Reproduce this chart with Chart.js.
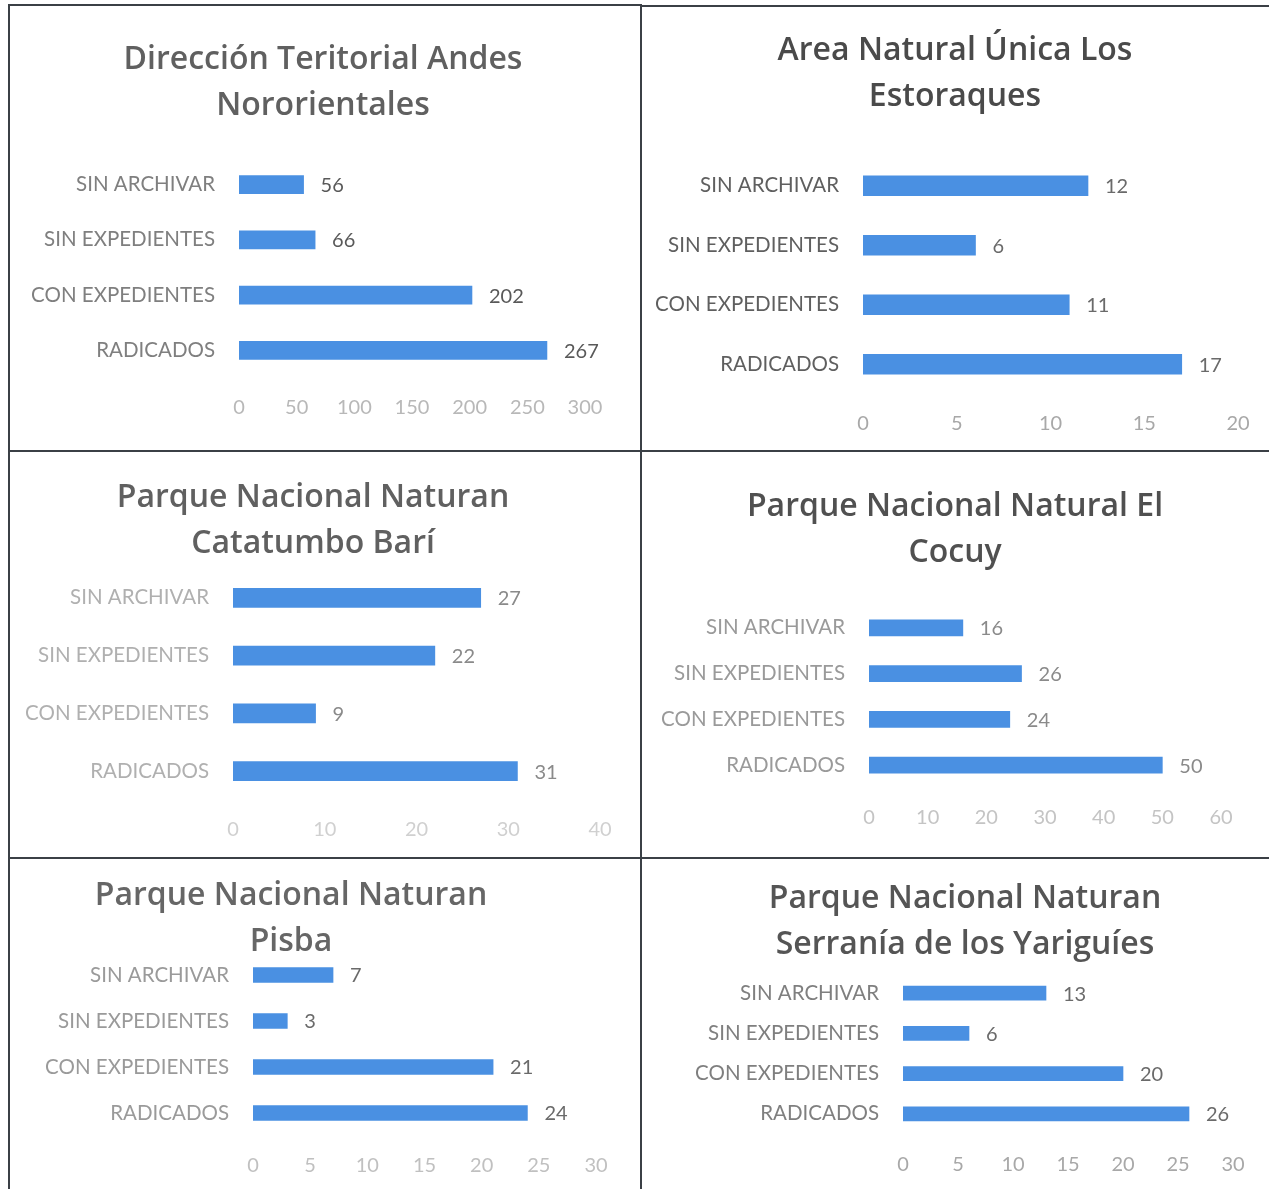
<!DOCTYPE html>
<html>
<head>
<meta charset="utf-8">
<script src="https://cdn.jsdelivr.net/npm/chart.js@4.4.1/dist/chart.umd.min.js"></script>
<style>
  body { margin: 0; background: #fff; width: 1269px; height: 1189px; overflow: hidden; position: relative; }
  .panel { position: absolute; }
  .line { position: absolute; background: #3b4046; z-index: 2; }
</style>
</head>
<body>
<div class="line" style="left:8px;top:4px;width:2px;height:1185px;"></div>
<div class="line" style="left:8px;top:4px;width:634px;height:2px;"></div>
<div class="line" style="left:640px;top:5px;width:629px;height:2px;"></div>
<div class="line" style="left:640px;top:4px;width:2px;height:1185px;"></div>
<div class="line" style="left:8px;top:450px;width:1261px;height:2px;"></div>
<div class="line" style="left:8px;top:857px;width:1261px;height:2px;"></div>

<script>
// datos
var categorias = ["SIN ARCHIVAR", "SIN EXPEDIENTES", "CON EXPEDIENTES", "RADICADOS"];

var titulos = [
    ["Dirección Teritorial Andes", "Nororientales"],
    ["Area Natural Única Los", "Estoraques"],
    ["Parque Nacional Naturan", "Catatumbo Barí"],
    ["Parque Nacional Natural El", "Cocuy"],
    ["Parque Nacional Naturan", "Pisba"],
    ["Parque Nacional Naturan", "Serranía de los Yariguíes"]
];

var valoresAndes = [56, 66, 202, 267];
var valoresEstoraques = [12, 6, 11, 17];
var valoresCatatumbo = [27, 22, 9, 31];
var valoresCocuy = [16, 26, 24, 50];
var valoresPisba = [7, 3, 21, 24];
var valoresYariguies = [13, 6, 20, 26];

var maximos = [300, 20, 40, 60, 30, 30];
var pasos = [50, 5, 10, 10, 5, 5];

// posiciones de cada panel en la pagina
var paneles = [
    { x: 10, y: 6, w: 630, h: 444, centro: 323, titulo: 57, arriba: 157, abajo: 378, inicio: 239, fin: 585, ticks: 408, grosor: 18, tit: '#606060', cat: '#7f7f7f', tick: '#b8b8b8', val: '#595959' },
    { x: 642, y: 7, w: 627, h: 443, centro: 955, titulo: 48, arriba: 156, abajo: 394, inicio: 863, fin: 1238, ticks: 424, grosor: 20, tit: '#4a4a4a', cat: '#5f5f5f', tick: '#a8a8a8', val: '#6a6a6a' },
    { x: 10, y: 452, w: 630, h: 405, centro: 313, titulo: 495, arriba: 569, abajo: 800, inicio: 233, fin: 600, ticks: 830, grosor: 19, tit: '#606060', cat: '#b0b0b0', tick: '#d0d0d0', val: '#8a8a8a' },
    { x: 642, y: 452, w: 627, h: 405, centro: 955, titulo: 504, arriba: 605, abajo: 788, inicio: 869, fin: 1221, ticks: 818, grosor: 16, tit: '#505050', cat: '#9a9a9a', tick: '#c4c4c4', val: '#8a8a8a' },
    { x: 10, y: 859, w: 630, h: 330, centro: 291, titulo: 893, arriba: 952, abajo: 1136, inicio: 253, fin: 596, ticks: 1166, grosor: 15, tit: '#666666', cat: '#9a9a9a', tick: '#c0c0c0', val: '#6a6a6a' },
    { x: 642, y: 859, w: 627, h: 330, centro: 965, titulo: 896, arriba: 973, abajo: 1134, inicio: 903, fin: 1233, ticks: 1165, grosor: 14, tit: '#555555', cat: '#7f7f7f', tick: '#a8a8a8', val: '#6a6a6a' }
];

var valeurs = [valoresAndes, valoresEstoraques, valoresCatatumbo, valoresCocuy, valoresPisba, valoresYariguies];

// etiquetas de valor al final de cada barra
var pluginValores = {
    id: 'valores',
    afterDatasetsDraw: function (chart) {
        var ctx = chart.ctx;
        var meta = chart.getDatasetMeta(0);
        var couleur = chart.options.plugins.valores.color;
        ctx.save();
        ctx.font = '20px Lato';
        ctx.fillStyle = couleur;
        ctx.textAlign = 'left';
        ctx.textBaseline = 'middle';
        meta.data.forEach(function (bar, i) {
            ctx.fillText(chart.data.datasets[0].data[i], bar.x + 17, bar.y + 1);
        });
        ctx.restore();
    }
};

// titulo en dos lineas, centrado como en el original
var pluginTitulo = {
    id: 'tituloPanel',
    afterDraw: function (chart) {
        var o = chart.options.plugins.tituloPanel;
        var ctx = chart.ctx;
        ctx.save();
        ctx.font = '600 32px "Open Sans"';
        ctx.fillStyle = o.color;
        ctx.textAlign = 'center';
        ctx.textBaseline = 'middle';
        o.text.forEach(function (linea, k) {
            ctx.fillText(linea, o.x, o.y + 3 + k * 46);
        });
        ctx.restore();
    }
};

function CrearGrafico(i) {
    var p = paneles[i];
    var div = document.createElement('div');
    div.className = 'panel';
    div.style.left = p.x + 'px';
    div.style.top = p.y + 'px';
    div.style.width = p.w + 'px';
    div.style.height = p.h + 'px';
    div.innerHTML = '<canvas id="grafico' + i + '" width="' + p.w + '" height="' + p.h + '"></canvas>';
    document.body.appendChild(div);

    var ctx = document.getElementById('grafico' + i).getContext('2d');
    var altoX = p.y + p.h - p.abajo;

    new Chart(ctx, {
        type: 'bar',
        data: {
            labels: categorias,
            datasets: [
                {
                    data: valeurs[i],
                    backgroundColor: '#4a90e2',
                    barThickness: p.grosor
                }
            ]
        },
        options: {
            indexAxis: 'y',
            responsive: false,
            animation: false,
            layout: { padding: { top: p.arriba - p.y, left: 0, bottom: 0, right: p.x + p.w - p.fin } },
            plugins: {
                legend: { display: false },
                tooltip: { enabled: false },
                title: { display: false },
                valores: { color: p.val },
                tituloPanel: { text: titulos[i], color: p.tit, x: p.centro - p.x, y: p.titulo - p.y }
            },
            scales: {
                x: {
                    min: 0,
                    max: maximos[i],
                    grid: { display: false, drawTicks: false },
                    border: { display: false },
                    ticks: {
                        stepSize: pasos[i],
                        color: p.tick,
                        padding: p.ticks - p.abajo - 12,
                        font: { family: 'Lato', size: 20 }
                    },
                    afterFit: function (scale) { scale.height = altoX; }
                },
                y: {
                    grid: { display: false, drawTicks: false },
                    border: { display: false },
                    ticks: {
                        color: p.cat,
                        padding: 24,
                        font: { family: 'Lato', size: 20.5 }
                    },
                    afterFit: function (scale) { scale.width = p.inicio - p.x; }
                }
            }
        },
        plugins: [pluginValores, pluginTitulo]
    });
}

for (var i = 0; i < paneles.length; i++) {
    CrearGrafico(i);
}
</script>
</body>
</html>
